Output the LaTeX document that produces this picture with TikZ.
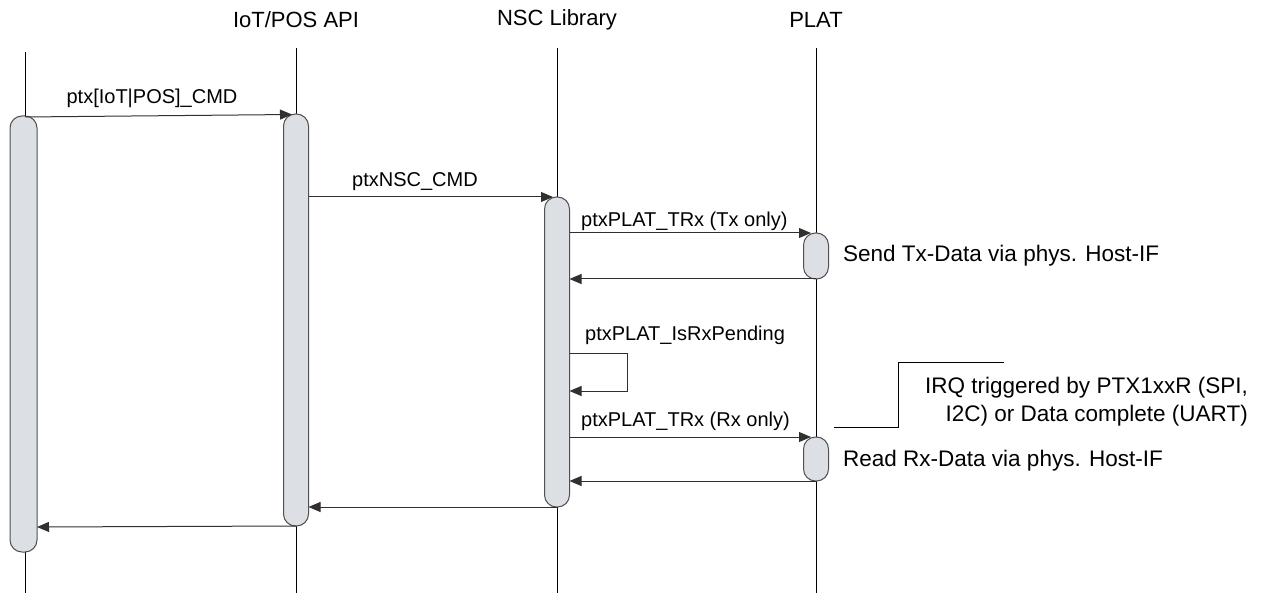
\documentclass[tikz,border=0pt]{standalone}
\usepackage{fontspec}
\setmainfont{Liberation Sans}
\usetikzlibrary{arrows.meta}
\definecolor{barfill}{HTML}{DCDFE3}
\definecolor{barline}{HTML}{505050}
\definecolor{msg}{HTML}{303030}
\begin{document}
\begin{tikzpicture}[x=1pt,y=-1pt,
  life/.style={draw=black,line width=0.8pt},
  bar/.style={draw=barline,fill=barfill,line width=1pt,rounded corners=12pt,inner sep=0pt,minimum width=25pt},
  msgline/.style={draw=msg,line width=1pt,-{Triangle[length=12pt,width=10pt]}},
  title/.style={font=\fontsize{22}{26}\selectfont,inner sep=0pt},
  lbl/.style={font=\fontsize{20}{24}\selectfont,inner sep=0pt},
  call/.style={font=\fontsize{22.5}{28}\selectfont,inner sep=0pt},
  notel/.style={draw=black,line width=0.8pt}]
\useasboundingbox (0,0) rectangle (1268,593);
% titles
\node[title] (tB) at (296,20) {IoT/POS API};
\node[title] (tC) at (557,20) {NSC Library};
\node[title] (tD) at (816,20) {PLAT};
% lifelines
\coordinate (Atop) at (25,52); \coordinate (Abot) at (25,593);
\coordinate (Btop) at (296,48); \coordinate (Bbot) at (296,593);
\coordinate (Ctop) at (557,48); \coordinate (Cbot) at (557,593);
\coordinate (Dtop) at (816,48); \coordinate (Dbot) at (816,593);
\draw[life] (Atop) -- (Abot);
\draw[life] (Btop) -- (Bbot);
\draw[life] (Ctop) -- (Cbot);
\draw[life] (Dtop) -- (Dbot);
% activation bars
\node[bar,minimum width=27pt,minimum height=436pt] (barA) at (23.5,334) {};
\node[bar,minimum height=412pt] (barB) at (296,320) {};
\node[bar,minimum height=310pt] (barC) at (557,352) {};
\node[bar,minimum height=46pt] (barD1) at (816,256) {};
\node[bar,minimum height=44pt] (barD2) at (816,459) {};
% messages
\coordinate (m1s) at (25,117); \coordinate (m1e) at (292,114.5);
\draw[msgline] (m1s) -- (m1e);
\node[lbl] (l1) at (152,98) {ptx[IoT|POS]\_CMD};
\coordinate (m2s) at (308.5,197); \coordinate (m2e) at (553,197);
\draw[msgline] (m2s) -- (m2e);
\node[lbl] (l2) at (415,182) {ptxNSC\_CMD};
\coordinate (m3s) at (569.5,233); \coordinate (m3e) at (811,233);
\draw[msgline] (m3s) -- (m3e);
\node[lbl,anchor=west] (l3) at (581,221) {ptxPLAT\_TRx (Tx only)};
\coordinate (m4s) at (816,279); \coordinate (m4e) at (569.5,279);
\draw[msgline] (m4s) -- (m4e);
\node[call,anchor=west] (c1) at (843,256) {Send Tx-Data via phys. Host-IF};
% self loop
\coordinate (m5s) at (569.5,353); \coordinate (m5e) at (569.5,391);
\draw[msgline] (m5s) -- (627,353) -- (627,391) -- (m5e);
\node[lbl,anchor=west] (l5) at (585,335) {ptxPLAT\_IsRxPending};
\coordinate (m6s) at (569.5,437); \coordinate (m6e) at (811,437);
\draw[msgline] (m6s) -- (m6e);
\node[lbl,anchor=west] (l6) at (581,421) {ptxPLAT\_TRx (Rx only)};
\coordinate (m7s) at (816,481); \coordinate (m7e) at (569.5,481);
\draw[msgline] (m7s) -- (m7e);
\node[call,anchor=west] (c2) at (843,461) {Read Rx-Data via phys. Host-IF};
\coordinate (m8s) at (557,507); \coordinate (m8e) at (308.5,507);
\draw[msgline] (m8s) -- (m8e);
\coordinate (m9s) at (296,526); \coordinate (m9e) at (37,527);
\draw[msgline] (m9s) -- (m9e);
% note
\node[call,align=right,anchor=base east] (note) at (1248,421) {IRQ triggered by PTX1xxR (SPI,\\I2C) or Data complete (UART)};
\coordinate (n1) at (834,427); \coordinate (n2) at (1004,362);
\draw[notel] (n1) -- (898,427) -- (898,362) -- (n2);
\end{tikzpicture}
\end{document}
